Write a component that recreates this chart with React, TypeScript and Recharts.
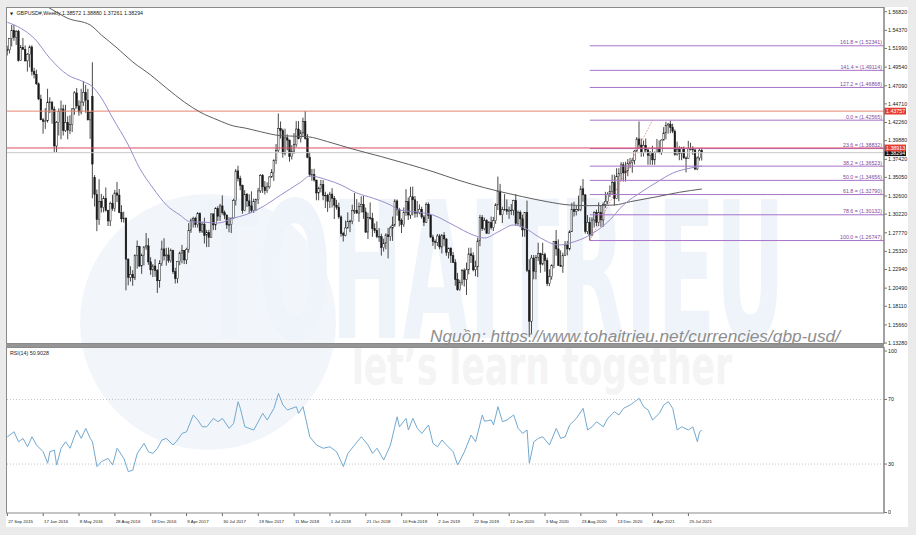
import {
  Bar, ComposedChart, Line, LineChart, ReferenceLine, XAxis, YAxis,
} from "recharts";

const FONT = "'Liberation Sans', Arial, sans-serif";
const X_DOMAIN: [number, number] = [-0.6, 391.3];

// GBPUSD weekly bars [open, high, low, close], week of 27 Sep 2015 onwards
const bars2015 = [
  [1.5185, 1.5235, 1.5107, 1.5180], [1.5180, 1.5337, 1.5133, 1.5330], [1.5330, 1.5508, 1.5226, 1.5437],
  [1.5437, 1.5509, 1.5300, 1.5345], [1.5345, 1.5440, 1.5245, 1.5426], [1.5426, 1.5445, 1.5026, 1.5043],
  [1.5043, 1.5245, 1.5036, 1.5215], [1.5215, 1.5337, 1.5179, 1.5188], [1.5188, 1.5238, 1.5027, 1.5036],
  [1.5036, 1.5140, 1.4895, 1.5123], [1.5123, 1.5240, 1.4950, 1.5219], [1.5219, 1.5240, 1.4844, 1.4895],
  [1.4895, 1.4946, 1.4804, 1.4860], [1.4860, 1.4920, 1.4721, 1.4735],
];
const bars2016 = [
  [1.4735, 1.4752, 1.4520, 1.4535], [1.4535, 1.4592, 1.4256, 1.4262], [1.4262, 1.4285, 1.4079, 1.4240],
  [1.4240, 1.4415, 1.4142, 1.4248], [1.4248, 1.4669, 1.4225, 1.4496], [1.4496, 1.4557, 1.4351, 1.4491],
  [1.4491, 1.4510, 1.4210, 1.4401], [1.4401, 1.4436, 1.3835, 1.3918], [1.3918, 1.4245, 1.3835, 1.4227],
  [1.4227, 1.4410, 1.4055, 1.4371], [1.4371, 1.4515, 1.4005, 1.4404], [1.4404, 1.4460, 1.4055, 1.4121],
  [1.4121, 1.4459, 1.4100, 1.4225], [1.4225, 1.4308, 1.4005, 1.4125], [1.4125, 1.4322, 1.4076, 1.4200],
  [1.4200, 1.4416, 1.4102, 1.4405], [1.4405, 1.4639, 1.4328, 1.4615], [1.4615, 1.4679, 1.4409, 1.4445],
  [1.4445, 1.4517, 1.4314, 1.4365], [1.4365, 1.4669, 1.4333, 1.4495], [1.4495, 1.4770, 1.4443, 1.4621],
  [1.4621, 1.4721, 1.4355, 1.4520], [1.4520, 1.4669, 1.4255, 1.4260], [1.4260, 1.4360, 1.4010, 1.4355],
  [1.4570, 1.5018, 1.3229, 1.3680], [1.3500, 1.3535, 1.3122, 1.3280], [1.3280, 1.3345, 1.2798, 1.2950],
  [1.2950, 1.3481, 1.2881, 1.3190], [1.3190, 1.3288, 1.3043, 1.3110], [1.3110, 1.3262, 1.3045, 1.3230],
  [1.3230, 1.3372, 1.3055, 1.3070], [1.3070, 1.3080, 1.2866, 1.2932], [1.2932, 1.3185, 1.2865, 1.3162],
  [1.3162, 1.3276, 1.3066, 1.3097], [1.3097, 1.3340, 1.3056, 1.3300], [1.3300, 1.3445, 1.3180, 1.3272],
  [1.3272, 1.3352, 1.3035, 1.3043], [1.3043, 1.3140, 1.2915, 1.2960], [1.2960, 1.3055, 1.2910, 1.2970],
  [1.2970, 1.2975, 1.2020, 1.2430], [1.2430, 1.2440, 1.2086, 1.2190], [1.2190, 1.2336, 1.2135, 1.2230],
  [1.2230, 1.2285, 1.2080, 1.2185], [1.2185, 1.2494, 1.2155, 1.2480], [1.2480, 1.2675, 1.2305, 1.2595],
  [1.2595, 1.2605, 1.2329, 1.2340], [1.2340, 1.2504, 1.2237, 1.2480], [1.2480, 1.2600, 1.2347, 1.2590],
  [1.2590, 1.2774, 1.2553, 1.2606], [1.2606, 1.2705, 1.2355, 1.2395], [1.2395, 1.2455, 1.2224, 1.2289],
  [1.2289, 1.2365, 1.2195, 1.2340],
];
const bars2017 = [
  [1.2340, 1.2430, 1.2199, 1.2280], [1.2280, 1.2300, 1.1986, 1.2146], [1.2146, 1.2416, 1.2055, 1.2372],
  [1.2372, 1.2673, 1.2340, 1.2565], [1.2565, 1.2705, 1.2413, 1.2473], [1.2473, 1.2579, 1.2345, 1.2485],
  [1.2485, 1.2582, 1.2383, 1.2411], [1.2411, 1.2570, 1.2385, 1.2542], [1.2542, 1.2555, 1.2235, 1.2265],
  [1.2265, 1.2316, 1.2110, 1.2175], [1.2175, 1.2400, 1.2115, 1.2398], [1.2398, 1.2530, 1.2350, 1.2510],
  [1.2510, 1.2617, 1.2375, 1.2545], [1.2545, 1.2550, 1.2365, 1.2420], [1.2420, 1.2580, 1.2366, 1.2560],
  [1.2560, 1.2904, 1.2515, 1.2810], [1.2810, 1.2965, 1.2775, 1.2943], [1.2943, 1.2988, 1.2845, 1.2965],
  [1.2965, 1.2987, 1.2845, 1.2885], [1.2885, 1.3048, 1.2845, 1.3030], [1.3030, 1.3045, 1.2774, 1.2800],
  [1.2800, 1.2920, 1.2774, 1.2890], [1.2890, 1.2975, 1.2635, 1.2745], [1.2745, 1.2815, 1.2588, 1.2780],
  [1.2780, 1.2815, 1.2589, 1.2715], [1.2715, 1.3029, 1.2710, 1.3025], [1.3025, 1.3030, 1.2812, 1.2880],
  [1.2880, 1.3113, 1.2812, 1.3095], [1.3095, 1.3126, 1.2932, 1.2995], [1.2995, 1.3158, 1.2932, 1.3130],
  [1.3130, 1.3268, 1.3017, 1.3040], [1.3040, 1.3070, 1.2956, 1.3010], [1.3010, 1.3017, 1.2828, 1.2880],
  [1.2880, 1.2981, 1.2783, 1.2885], [1.2885, 1.2975, 1.2773, 1.2970], [1.2970, 1.3224, 1.2960, 1.3200],
  [1.3200, 1.3615, 1.3135, 1.3590], [1.3590, 1.3658, 1.3450, 1.3490], [1.3490, 1.3527, 1.3336, 1.3400],
  [1.3400, 1.3410, 1.3027, 1.3070], [1.3070, 1.3338, 1.3060, 1.3283], [1.3283, 1.3300, 1.3116, 1.3195],
  [1.3195, 1.3284, 1.3027, 1.3130], [1.3130, 1.3321, 1.3038, 1.3070], [1.3070, 1.3225, 1.3039, 1.3190],
  [1.3190, 1.3225, 1.3062, 1.3212], [1.3212, 1.3366, 1.3155, 1.3327], [1.3327, 1.3549, 1.3300, 1.3530],
  [1.3530, 1.3548, 1.3300, 1.3380], [1.3380, 1.3456, 1.3280, 1.3330], [1.3330, 1.3440, 1.3301, 1.3380],
  [1.3380, 1.3520, 1.3358, 1.3510], [1.3510, 1.3613, 1.3500, 1.3568],
];
const bars2018 = [
  [1.3568, 1.3744, 1.3458, 1.3725], [1.3725, 1.3943, 1.3680, 1.3858], [1.3858, 1.4345, 1.3834, 1.4150],
  [1.4150, 1.4240, 1.4015, 1.4120], [1.4120, 1.4145, 1.3765, 1.3820], [1.3820, 1.4145, 1.3793, 1.4025],
  [1.4025, 1.4070, 1.3860, 1.3995], [1.3995, 1.4000, 1.3711, 1.3780], [1.3780, 1.3928, 1.3740, 1.3850],
  [1.3850, 1.4088, 1.3814, 1.3935], [1.3935, 1.4245, 1.3905, 1.4140], [1.4140, 1.4245, 1.4005, 1.4015],
  [1.4015, 1.4127, 1.3963, 1.4090], [1.4090, 1.4290, 1.4050, 1.4240], [1.4240, 1.4377, 1.4000, 1.4015],
  [1.4015, 1.4075, 1.3757, 1.3770], [1.3770, 1.3840, 1.3510, 1.3540], [1.3540, 1.3616, 1.3460, 1.3540],
  [1.3540, 1.3617, 1.3449, 1.3470], [1.3470, 1.3472, 1.3204, 1.3300], [1.3300, 1.3382, 1.3204, 1.3360],
  [1.3360, 1.3472, 1.3307, 1.3410], [1.3410, 1.3472, 1.3205, 1.3270], [1.3270, 1.3315, 1.3102, 1.3265],
  [1.3265, 1.3290, 1.3051, 1.3190], [1.3190, 1.3315, 1.3100, 1.3285], [1.3285, 1.3363, 1.3110, 1.3230],
  [1.3230, 1.3260, 1.2958, 1.3140], [1.3140, 1.3210, 1.3080, 1.3110], [1.3110, 1.3173, 1.2960, 1.2985],
  [1.2985, 1.3005, 1.2725, 1.2765], [1.2765, 1.2790, 1.2662, 1.2745], [1.2745, 1.2936, 1.2730, 1.2840],
  [1.2840, 1.3045, 1.2832, 1.2925], [1.2925, 1.2948, 1.2785, 1.2930], [1.2930, 1.3145, 1.2890, 1.3070],
  [1.3070, 1.3300, 1.3025, 1.3070], [1.3070, 1.3220, 1.3030, 1.3035], [1.3035, 1.3175, 1.2920, 1.3125],
  [1.3125, 1.3256, 1.3043, 1.3150], [1.3150, 1.3260, 1.2960, 1.3050], [1.3050, 1.3108, 1.2775, 1.2785],
  [1.2785, 1.3040, 1.2695, 1.2975], [1.2975, 1.3175, 1.2948, 1.2965], [1.2965, 1.3040, 1.2723, 1.2830],
  [1.2830, 1.2900, 1.2773, 1.2805], [1.2805, 1.2926, 1.2705, 1.2725], [1.2725, 1.2838, 1.2658, 1.2725],
  [1.2725, 1.2765, 1.2477, 1.2580], [1.2580, 1.2700, 1.2530, 1.2640], [1.2640, 1.2770, 1.2560, 1.2750],
  [1.2750, 1.2840, 1.2440, 1.2725],
];
const bars2019 = [
  [1.2725, 1.2865, 1.2670, 1.2840], [1.2840, 1.2990, 1.2670, 1.2880], [1.2880, 1.3218, 1.2855, 1.3195],
  [1.3195, 1.3215, 1.3000, 1.3080], [1.3080, 1.3105, 1.2860, 1.2940], [1.2940, 1.2965, 1.2773, 1.2885],
  [1.2885, 1.3110, 1.2855, 1.3045], [1.3045, 1.3350, 1.3000, 1.3185], [1.3185, 1.3240, 1.2944, 1.3010],
  [1.3010, 1.3380, 1.2960, 1.3250], [1.3250, 1.3383, 1.3005, 1.3210], [1.3210, 1.3260, 1.2975, 1.3035],
  [1.3035, 1.3195, 1.2980, 1.3045], [1.3045, 1.3150, 1.3020, 1.3085], [1.3085, 1.3120, 1.2960, 1.2985],
  [1.2985, 1.3010, 1.2865, 1.2915], [1.2915, 1.3175, 1.2905, 1.3150], [1.3150, 1.3175, 1.2960, 1.3005],
  [1.3005, 1.3020, 1.2710, 1.2720], [1.2720, 1.2750, 1.2605, 1.2660], [1.2660, 1.2690, 1.2560, 1.2650],
  [1.2650, 1.2762, 1.2603, 1.2735], [1.2735, 1.2760, 1.2560, 1.2590], [1.2590, 1.2760, 1.2505, 1.2745],
  [1.2745, 1.2785, 1.2600, 1.2695], [1.2695, 1.2705, 1.2475, 1.2520], [1.2520, 1.2580, 1.2438, 1.2575],
  [1.2575, 1.2585, 1.2380, 1.2475], [1.2475, 1.2525, 1.2380, 1.2385], [1.2385, 1.2430, 1.2080, 1.2165],
  [1.2165, 1.2250, 1.2015, 1.2030], [1.2030, 1.2160, 1.2015, 1.2125], [1.2125, 1.2300, 1.2085, 1.2280],
  [1.2280, 1.2310, 1.2070, 1.2165], [1.2165, 1.2385, 1.1959, 1.2290], [1.2290, 1.2580, 1.2230, 1.2500],
  [1.2500, 1.2580, 1.2380, 1.2475], [1.2475, 1.2520, 1.2270, 1.2290], [1.2290, 1.2410, 1.2205, 1.2330],
  [1.2330, 1.2710, 1.2195, 1.2670], [1.2670, 1.3013, 1.2600, 1.2980], [1.2980, 1.3010, 1.2800, 1.2830],
  [1.2830, 1.2975, 1.2810, 1.2935], [1.2935, 1.2955, 1.2760, 1.2770], [1.2770, 1.2930, 1.2765, 1.2910],
  [1.2910, 1.2990, 1.2820, 1.2845], [1.2845, 1.2985, 1.2800, 1.2935], [1.2935, 1.3165, 1.2895, 1.3145],
  [1.3145, 1.3515, 1.3075, 1.3325], [1.3325, 1.3420, 1.3005, 1.3015], [1.3015, 1.3120, 1.2905, 1.3080],
  [1.3080, 1.3285, 1.3070, 1.3085],
];
const bars2020 = [
  [1.3085, 1.3215, 1.3013, 1.3060], [1.3060, 1.3120, 1.2960, 1.3075], [1.3075, 1.3155, 1.3010, 1.3075],
  [1.3075, 1.3210, 1.3005, 1.3200], [1.3200, 1.3285, 1.2872, 1.2900], [1.2900, 1.3070, 1.2870, 1.3045],
  [1.3045, 1.3070, 1.2850, 1.2960], [1.2960, 1.3015, 1.2725, 1.2815], [1.2815, 1.3050, 1.2725, 1.3045],
  [1.3045, 1.3200, 1.2260, 1.2285], [1.2285, 1.2430, 1.1409, 1.1615], [1.1615, 1.2485, 1.1450, 1.2445],
  [1.2445, 1.2485, 1.2165, 1.2270], [1.2270, 1.2485, 1.2165, 1.2455], [1.2455, 1.2647, 1.2405, 1.2505],
  [1.2505, 1.2515, 1.2250, 1.2365], [1.2365, 1.2645, 1.2348, 1.2490], [1.2490, 1.2515, 1.2265, 1.2410],
  [1.2410, 1.2450, 1.2075, 1.2110], [1.2110, 1.2296, 1.2075, 1.2200], [1.2200, 1.2362, 1.2160, 1.2345],
  [1.2345, 1.2670, 1.2310, 1.2665], [1.2665, 1.2813, 1.2475, 1.2565], [1.2565, 1.2690, 1.2340, 1.2350],
  [1.2350, 1.2545, 1.2330, 1.2335], [1.2335, 1.2515, 1.2250, 1.2480], [1.2480, 1.2668, 1.2470, 1.2615],
  [1.2615, 1.2670, 1.2480, 1.2565], [1.2565, 1.2810, 1.2545, 1.2790], [1.2790, 1.3170, 1.2790, 1.3085],
  [1.3085, 1.3185, 1.2990, 1.3055], [1.3055, 1.3130, 1.3005, 1.3085], [1.3085, 1.3265, 1.3060, 1.3085],
  [1.3085, 1.3395, 1.3060, 1.3355], [1.3355, 1.3482, 1.3185, 1.3275], [1.3275, 1.3285, 1.2765, 1.2795],
  [1.2795, 1.3010, 1.2760, 1.2915], [1.2915, 1.2980, 1.2675, 1.2745], [1.2745, 1.2980, 1.2745, 1.2945],
  [1.2945, 1.3060, 1.2845, 1.3045], [1.3045, 1.3080, 1.2865, 1.2915], [1.2915, 1.3175, 1.2865, 1.3045],
  [1.3045, 1.3140, 1.2855, 1.2945], [1.2945, 1.3175, 1.2855, 1.3150], [1.3150, 1.3315, 1.3105, 1.3190],
  [1.3190, 1.3310, 1.3150, 1.3285], [1.3285, 1.3400, 1.3245, 1.3320], [1.3320, 1.3540, 1.3280, 1.3435],
  [1.3435, 1.3540, 1.3135, 1.3225], [1.3225, 1.3625, 1.3220, 1.3515], [1.3515, 1.3625, 1.3190, 1.3555],
  [1.3555, 1.3705, 1.3465, 1.3670],
];
const bars2021 = [
  [1.3670, 1.3705, 1.3450, 1.3565], [1.3565, 1.3710, 1.3450, 1.3590], [1.3590, 1.3745, 1.3520, 1.3690],
  [1.3690, 1.3760, 1.3625, 1.3705], [1.3705, 1.3760, 1.3565, 1.3730], [1.3730, 1.3865, 1.3675, 1.3850],
  [1.3850, 1.4035, 1.3840, 1.4010], [1.4010, 1.4240, 1.3890, 1.3930], [1.3930, 1.4015, 1.3775, 1.3830],
  [1.3830, 1.3990, 1.3780, 1.3925], [1.3925, 1.4015, 1.3825, 1.3865], [1.3865, 1.3880, 1.3670, 1.3795],
  [1.3795, 1.3850, 1.3670, 1.3830], [1.3830, 1.3920, 1.3670, 1.3735], [1.3735, 1.3845, 1.3670, 1.3835],
  [1.3835, 1.4010, 1.3825, 1.3885], [1.3885, 1.3990, 1.3820, 1.3830], [1.3830, 1.4005, 1.3800, 1.3995],
  [1.3995, 1.4165, 1.3990, 1.4090], [1.4090, 1.4235, 1.4005, 1.4185], [1.4185, 1.4220, 1.4080, 1.4205],
  [1.4205, 1.4250, 1.4085, 1.4160], [1.4160, 1.4210, 1.4085, 1.4110], [1.4110, 1.4135, 1.3790, 1.3805],
  [1.3805, 1.3975, 1.3790, 1.3875], [1.3875, 1.3915, 1.3730, 1.3820], [1.3820, 1.3905, 1.3730, 1.3890],
  [1.3890, 1.3910, 1.3750, 1.3760], [1.3760, 1.3780, 1.3570, 1.3755], [1.3755, 1.3985, 1.3750, 1.3880],
  [1.3880, 1.3960, 1.3860, 1.3875], [1.3875, 1.3915, 1.3800, 1.3865], [1.3865, 1.3890, 1.3600, 1.3615],
  [1.3615, 1.3780, 1.3600, 1.3760], [1.3760, 1.3890, 1.3725, 1.3860], [1.3857, 1.3888, 1.3726, 1.3829],
];

// moving averages: [bar index, value]
const ma50Points = [
  [0, 1.5543], [6, 1.5464], [12, 1.5332], [19, 1.5070], [27, 1.4850], [34, 1.4762], [38, 1.4697],
  [42, 1.4548], [47, 1.4285], [54, 1.3930], [59, 1.3628], [65, 1.3365], [71, 1.3142], [77, 1.3010],
  [82, 1.2918], [86, 1.2918], [94, 1.2905], [101, 1.2970], [106, 1.3010], [113, 1.3102], [122, 1.3273],
  [131, 1.3443], [135, 1.3523], [143, 1.3470], [149, 1.3404], [156, 1.3299], [163, 1.3234], [171, 1.3142],
  [175, 1.3076], [183, 1.3050], [190, 1.3010], [199, 1.2879], [208, 1.2747], [213, 1.2708], [219, 1.2787],
  [226, 1.2879], [230, 1.2853], [238, 1.2708], [246, 1.2616], [251, 1.2642], [260, 1.2747], [268, 1.2918],
  [275, 1.3142], [283, 1.3313], [290, 1.3443], [297, 1.3561], [305, 1.3628], [310, 1.3654],
];
const ma200Points = [
  [0, 1.6000], [19, 1.5727], [27, 1.5595], [37, 1.5507], [42, 1.5376], [49, 1.5205], [56, 1.5021],
  [64, 1.4850], [71, 1.4679], [79, 1.4495], [86, 1.4363], [94, 1.4258], [101, 1.4180], [106, 1.4154],
  [113, 1.4105], [122, 1.4053], [134, 1.4039], [143, 1.3974], [154, 1.3878], [167, 1.3777], [179, 1.3677],
  [190, 1.3580], [201, 1.3471], [213, 1.3369], [220, 1.3317], [230, 1.3251], [241, 1.3185], [251, 1.3142],
  [260, 1.3133], [271, 1.3142], [278, 1.3185], [290, 1.3251], [300, 1.3309], [310, 1.3352],
];

// RSI(14): [bar index, value]
const rsiPoints = [
  [0, 46.9], [3, 50.0], [5, 43.8], [7, 45.9], [9, 40.7], [11, 46.9], [13, 41.8], [16, 37.6], [18, 30.5],
  [19, 37.6], [21, 38.7], [22, 29.4], [24, 39.8], [26, 43.8], [28, 39.8], [31, 51.1], [33, 45.9],
  [35, 52.1], [37, 45.9], [38, 43.8], [40, 28.4], [42, 31.5], [45, 33.5], [47, 29.4], [49, 39.8],
  [52, 33.5], [54, 25.3], [56, 26.3], [58, 36.6], [61, 42.8], [63, 37.6], [65, 36.6], [67, 39.8],
  [69, 44.9], [71, 45.9], [74, 41.8], [76, 44.9], [78, 49.0], [80, 50.0], [83, 60.4], [85, 57.3],
  [87, 53.1], [89, 53.1], [92, 58.3], [94, 56.2], [96, 58.3], [99, 52.1], [101, 55.2], [103, 68.6],
  [104, 64.5], [106, 53.1], [110, 51.1], [114, 61.4], [116, 57.3], [119, 64.5], [121, 73.8], [123, 66.6],
  [125, 63.5], [129, 65.5], [130, 61.4], [132, 65.5], [135, 46.9], [138, 41.8], [141, 39.8], [144, 40.7],
  [147, 37.6], [150, 28.4], [152, 36.6], [155, 41.8], [158, 46.9], [161, 41.8], [163, 36.6], [165, 39.8],
  [168, 32.5], [171, 41.8], [174, 59.3], [175, 53.1], [178, 58.3], [179, 51.1], [181, 58.3], [183, 52.1],
  [185, 49.0], [188, 54.2], [190, 42.8], [192, 40.7], [194, 44.9], [196, 41.8], [199, 37.6], [201, 29.4],
  [204, 37.6], [207, 48.0], [209, 43.8], [212, 60.4], [213, 56.5], [216, 57.3], [217, 54.2], [219, 65.5],
  [221, 56.2], [223, 57.3], [226, 60.4], [228, 52.1], [230, 49.0], [232, 51.1], [233, 30.5], [235, 43.8],
  [237, 45.9], [239, 46.9], [242, 41.8], [245, 52.1], [247, 45.9], [249, 46.9], [251, 54.2], [254, 58.3],
  [257, 64.5], [259, 51.1], [261, 53.1], [263, 56.2], [266, 53.1], [268, 58.3], [271, 62.4], [273, 60.4],
  [275, 64.5], [278, 66.6], [280, 68.6], [282, 70.7], [284, 65.5], [286, 63.5], [288, 57.3], [291, 61.4],
  [293, 66.6], [295, 68.6], [297, 64.5], [299, 51.1], [301, 53.1], [304, 51.1], [306, 53.1], [308, 43.8],
  [309, 50.0], [310, 50.9],
];

const priceTicks = [
  1.5682, 1.5437, 1.5199, 1.4954, 1.4709, 1.4471, 1.4226, 1.3988, 1.3742, 1.3505,
  1.326, 1.3022, 1.2777, 1.2532, 1.2294, 1.2049, 1.1811, 1.1566, 1.1328,
];
const dateTickIdx = [0, 16, 32, 48, 64, 80, 96, 112, 128, 144, 160, 176, 192, 208, 224, 240, 256, 272, 288, 304];
const dateLabels = [
  "27 Sep 2015", "17 Jan 2016", "8 May 2016", "28 Aug 2016", "18 Dec 2016", "9 Apr 2017", "30 Jul 2017",
  "19 Nov 2017", "11 Mar 2018", "1 Jul 2018", "21 Oct 2018", "10 Feb 2019", "2 Jun 2019", "22 Sep 2019",
  "12 Jan 2020", "3 May 2020", "23 Aug 2020", "13 Dec 2020", "4 Apr 2021", "25 Jul 2021",
];
const fibRatios = ["161.8", "141.4", "127.2", "0.0", "23.6", "38.2", "50.0", "61.8", "78.6", "100.0"];
const fibPrices = [1.52341, 1.49114, 1.46868, 1.42565, 1.38832, 1.36523, 1.34656, 1.3279, 1.30132, 1.26747];
const fibFrom = 260;
const fibTo = 288;
const resistance = 1.43757;
const askLine = 1.38913;
const bidLine = 1.38294;
const headerText = "GBPUSD#,Weekly  1.38572 1.38880 1.37261 1.38294";
const rsiHeader = "RSI(14) 50.9028";

const allBars = [...bars2015, ...bars2016, ...bars2017, ...bars2018, ...bars2019, ...bars2020, ...bars2021];
const candleRows = allBars.map(([o, h, l, c], i) => ({ i, o, h, l, c, range: [l, h] }));
const ma50Rows = ma50Points.map(([i, v]) => ({ i, v }));
const ma200Rows = ma200Points.map(([i, v]) => ({ i, v }));
const rsiRows = rsiPoints.map(([i, v]) => ({ i, v }));

function Candle(props: any) {
  const { x, y, width, height, payload } = props;
  if (payload == null || x == null) return null;
  const { o, h, l, c } = payload;
  const top = Math.min(y, y + height);
  const span = Math.abs(height);
  const cx = x + width / 2;
  const yOf = (v: number) => top + ((h - v) / (h - l || 1)) * span;
  const bTop = yOf(Math.max(o, c));
  const bBot = yOf(Math.min(o, c));
  const up = c >= o;
  return (
    <g>
      <line x1={cx} x2={cx} y1={top} y2={top + span} stroke="#1a1a1a" strokeWidth={0.8} />
      <rect
        x={cx - 0.8} y={bTop} width={1.6} height={Math.max(bBot - bTop, 0.7)}
        fill={up ? "#ffffff" : "#1a1a1a"} stroke="#1a1a1a" strokeWidth={0.5}
      />
    </g>
  );
}

const fibLabel = (text: string) => (p: any) => {
  const vb = p.viewBox || {};
  const right = vb.x2 != null ? Math.max(vb.x1, vb.x2) : vb.x + vb.width;
  const y = vb.y1 != null ? vb.y1 : vb.y;
  return (
    <text x={right - 2} y={y - 1.3} textAnchor="end" fontSize={5.3} fill="#7c4b9e" fontFamily={FONT}>
      {text}
    </text>
  );
};

const priceTag = (text: string, bg: string) => (p: any) => {
  const vb = p.viewBox || {};
  const right = vb.x2 != null ? Math.max(vb.x1, vb.x2) : vb.x + vb.width;
  const y = vb.y1 != null ? vb.y1 : vb.y;
  return (
    <g>
      <rect x={right} y={y - 3.4} width={22} height={6.8} fill={bg} />
      <text x={right + 2} y={y + 2} fontSize={5.3} fill="#fff" fontFamily={FONT}>{text}</text>
    </g>
  );
};

function DateTick(props: any) {
  const k = dateTickIdx.indexOf(props.payload.value);
  return (
    <text x={props.x + 0.8} y={props.y + 6.5} fontSize={4.4} fill="#222" fontFamily={FONT}>
      {dateLabels[k]}
    </text>
  );
}

export default function App() {
  return (
    <div style={{ position: "absolute", left: 0, top: 0, width: 916, height: 535, background: "#ebebeb", overflow: "hidden" }}>
      <div style={{ position: "absolute", left: 6, top: 7, width: 902, height: 520, background: "#ffffff" }} />

      {/* faint site watermark behind the chart */}
      <svg width={916} height={535} style={{ position: "absolute", left: 0, top: 0 }}>
        <circle cx={208} cy={322} r={128} fill="#f2f6fb" />
        <text
          x={200} y={338} fontSize={190} fontWeight={700} fill="#eff4fa"
          fontFamily="'DejaVu Sans', sans-serif" textLength={585} lengthAdjust="spacingAndGlyphs"
        >
          TOHAITRIEU
        </text>
        <text
          x={352} y={384} fontSize={54} fontWeight={700} fill="#f4f4f4"
          fontFamily="'DejaVu Sans', sans-serif" textLength={380} lengthAdjust="spacingAndGlyphs"
        >
          let’s learn together
        </text>
      </svg>

      <div style={{ position: "absolute", left: 0, top: 0 }}>
        <ComposedChart width={916} height={346} data={candleRows} margin={{ top: 7, right: 0, bottom: 2, left: 6 }}>
          <XAxis type="number" dataKey="i" domain={X_DOMAIN} allowDataOverflow hide />
          <YAxis
            orientation="right" width={32} domain={[1.1315, 1.5744]} allowDataOverflow
            ticks={priceTicks} interval={0} tickFormatter={(v: number) => v.toFixed(5)}
            tick={{ fontSize: 5.3, fill: "#222", fontFamily: FONT }}
            tickSize={3} tickMargin={1} axisLine={{ stroke: "#777" }} tickLine={{ stroke: "#777" }}
          />
          <ReferenceLine y={resistance} stroke="#e8846f" strokeWidth={1} label={priceTag(resistance.toFixed(5), "#e53a2f")} />
          <ReferenceLine y={bidLine} stroke="#c9c9c9" strokeWidth={1} label={priceTag(bidLine.toFixed(5), "#111")} />
          {fibPrices.map((v, k) => (
            <ReferenceLine
              key={fibRatios[k]}
              segment={[{ x: fibFrom, y: v }, { x: X_DOMAIN[1], y: v }]}
              stroke="#a873c9" strokeWidth={1}
              label={fibLabel(`${fibRatios[k]} = (${v.toFixed(5)})`)}
            />
          ))}
          <ReferenceLine y={askLine} stroke="#dc4a62" strokeWidth={1} label={priceTag(askLine.toFixed(5), "#e53a2f")} />
          <ReferenceLine
            segment={[{ x: fibFrom, y: fibPrices[9] }, { x: fibTo, y: fibPrices[3] }]}
            stroke="#e07070" strokeWidth={0.8} strokeDasharray="1.5 1.5"
          />
          <Bar dataKey="range" barSize={2} shape={Candle} isAnimationActive={false} />
          <Line data={ma200Rows} dataKey="v" type="monotone" stroke="#5e5e5e" strokeWidth={1} dot={false} isAnimationActive={false} />
          <Line data={ma50Rows} dataKey="v" type="monotone" stroke="#9c8ccb" strokeWidth={1} dot={false} isAnimationActive={false} />
        </ComposedChart>
      </div>

      <div style={{ position: "absolute", left: 0, top: 346 }}>
        <LineChart width={916} height={189} data={rsiRows} margin={{ top: 1, right: 0, bottom: 0, left: 6 }}>
          <XAxis
            type="number" dataKey="i" domain={X_DOMAIN} allowDataOverflow height={22}
            ticks={dateTickIdx} interval={0} axisLine={false} tickSize={3} tickMargin={0}
            tickLine={{ stroke: "#666" }} tick={<DateTick />}
          />
          <YAxis
            orientation="right" width={32} domain={[-0.3, 102.5]} allowDataOverflow
            ticks={[0, 30, 70, 100]} interval={0}
            tick={{ fontSize: 5.3, fill: "#222", fontFamily: FONT }}
            tickSize={3} tickMargin={1} axisLine={{ stroke: "#777" }} tickLine={{ stroke: "#777" }}
          />
          <ReferenceLine y={70} stroke="#c4c4c4" strokeDasharray="1 2" />
          <ReferenceLine y={30} stroke="#c4c4c4" strokeDasharray="1 2" />
          <Line dataKey="v" type="linear" stroke="#72a9cf" strokeWidth={1} dot={false} isAnimationActive={false} />
        </LineChart>
      </div>

      {/* panel frames, headers and source note */}
      <svg width={916} height={535} style={{ position: "absolute", left: 0, top: 0, pointerEvents: "none" }}>
        <rect x={6.5} y={7.5} width={877.5} height={336} fill="none" stroke="#8a8a8a" strokeWidth={1} />
        <rect x={6} y={344} width={878} height={3} fill="#959595" />
        <rect x={6.5} y={347.5} width={877.5} height={165.5} fill="none" stroke="#8a8a8a" strokeWidth={1} />
        <text x={10} y={15} fontSize={4} fill="#222" fontFamily="'DejaVu Sans', sans-serif">▼</text>
        <text x={16.5} y={15} fontSize={5.3} fill="#222" fontFamily={FONT}>{headerText}</text>
        <text x={10} y={354.5} fontSize={5.3} fill="#222" fontFamily={FONT}>{rsiHeader}</text>
        <text
          x={430} y={342} fontSize={16} fontStyle="italic" fill="#8e8e8e" fontFamily={FONT}
          textLength={410} lengthAdjust="spacingAndGlyphs"
        >
          Nguồn: https://www.tohaitrieu.net/currencies/gbp-usd/
        </text>
      </svg>
    </div>
  );
}
